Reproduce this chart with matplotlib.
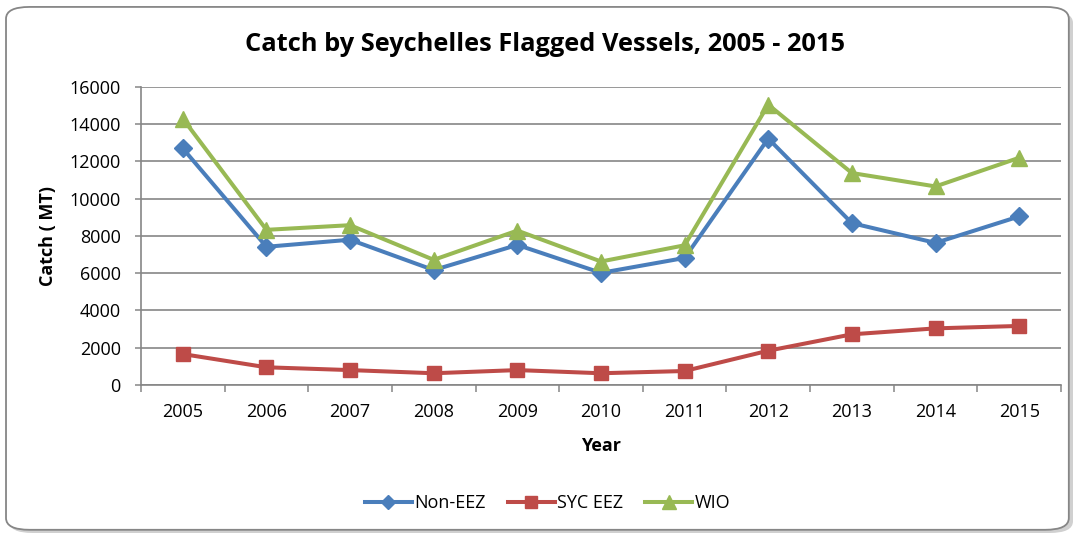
import numpy as np
import matplotlib
matplotlib.use("Agg")
import matplotlib.pyplot as plt
from matplotlib.patches import FancyBboxPatch

years = ["2005", "2006", "2007", "2008", "2009", "2010", "2011", "2012", "2013", "2014", "2015"]
non_eez = [12700, 7420, 7800, 6170, 7520, 6020, 6820, 13230, 8690, 7630, 9050]
syc_eez = [1660, 950, 800, 630, 800, 630, 750, 1840, 2720, 3040, 3170]
wio = [14300, 8330, 8580, 6720, 8290, 6630, 7500, 15050, 11380, 10660, 12200]

plt.rcParams['font.family'] = ['Open Sans', 'DejaVu Sans']

fig = plt.figure(figsize=(10.73, 5.33), dpi=100)

# rounded chart frame with a soft shadow
shadow = FancyBboxPatch((0.0085, 0.0), 0.9915, 0.979, boxstyle="round,pad=0,rounding_size=0.022",
                        transform=fig.transFigure, facecolor="#d0d0d0", edgecolor="none", zorder=-2)
frame = FancyBboxPatch((0.0056, 0.006), 0.9905, 0.981, boxstyle="round,pad=0,rounding_size=0.022",
                       transform=fig.transFigure, facecolor="white", edgecolor="#868686", linewidth=1.3, zorder=-1)
fig.patches.extend([shadow, frame])

ax = fig.add_axes([0.1314, 0.2777, 0.8574, 0.5591])
ax.set_facecolor("none")
x = np.arange(len(years))

ax.plot(x, non_eez, color="#4a7ebb", lw=2.9, marker="D", ms=9, label="Non-EEZ", zorder=3)
ax.plot(x, syc_eez, color="#be4b48", lw=2.9, marker="s", ms=10.5, label="SYC EEZ", zorder=3)
ax.plot(x, wio, color="#98b954", lw=2.9, marker="^", ms=12, label="WIO", zorder=4)

ax.set_xlim(-0.5, len(years) - 0.5)
ax.set_ylim(0, 16000)
ax.set_yticks(np.arange(0, 16001, 2000))
ax.set_xticks(x)
ax.set_xticklabels(years)
ax.set_xticks(np.arange(-0.5, len(years), 1), minor=True)
ax.tick_params(axis="x", which="major", length=0, pad=13, labelsize=13)
ax.tick_params(axis="x", which="minor", length=5, color="#868686", width=1.1)
ax.tick_params(axis="y", length=4.5, color="#868686", width=1.1, labelsize=13, pad=10)

ax.grid(axis="y", color="#868686", lw=1.2)
ax.set_axisbelow(True)
for s in ["top", "right"]:
    ax.spines[s].set_visible(False)
for s in ["left", "bottom"]:
    ax.spines[s].set_color("#868686")
    ax.spines[s].set_linewidth(1.2)

ax.set_xlabel("Year", fontsize=13, fontweight="bold", va="center")
ax.xaxis.set_label_coords(0.5, -0.205)
ax.set_ylabel("Catch ( MT)", fontsize=13, fontweight="bold", va="center")
ax.yaxis.set_label_coords(-0.101, 0.5)

fig.text(0.508, 0.9156, "Catch by Seychelles Flagged Vessels, 2005 - 2015", ha="center", va="center",
         fontsize=18.3, fontweight="bold")

ax.legend(loc="center", bbox_to_anchor=(0.442, -0.396), ncol=3, frameon=False, fontsize=13,
          handlelength=2.6, columnspacing=1.2, handletextpad=0.15, markerscale=0.8)

fig.savefig("out.png", dpi=100)
